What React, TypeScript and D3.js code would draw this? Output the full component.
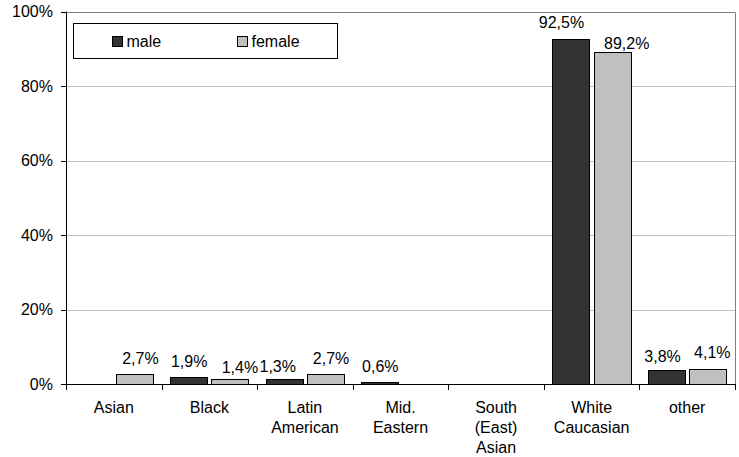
import React from "react";
import * as d3 from "d3";

const categories: string[][] = [
  ["Asian"],
  ["Black"],
  ["Latin", "American"],
  ["Mid.", "Eastern"],
  ["South", "(East)", "Asian"],
  ["White", "Caucasian"],
  ["other"],
];
const seriesNames = ["male", "female"];
const maleValues: (number | null)[] = [null, 1.9, 1.3, 0.6, null, 92.5, 3.8];
const femaleValues: (number | null)[] = [2.7, 1.4, 2.7, null, null, 89.2, 4.1];
const seriesColors = ["#333333", "#c0c0c0"];
const yTicks = [0, 20, 40, 60, 80, 100];

// manual label nudges (as placed in the original chart), [dx, dy] in px
const maleLabelNudge: [number, number][] = [[0, 0], [0, -0.7], [-7, 2], [0, 0], [0, 0], [-10, -1.5], [-4.5, 1.5]];
const femaleLabelNudge: [number, number][] = [[5.5, 0], [9.4, 4], [5, -0.5], [0, 0], [0, 0], [14, 7], [4, -1.5]];

const W = 739;
const H = 457;
const M = { left: 66, right: 735, top: 11.5, bottom: 384 };
const FONT = "'Liberation Sans', Arial, sans-serif";

export default function App() {
  const x = d3
    .scaleBand<number>()
    .domain(categories.map((_, i) => i))
    .range([M.left, M.right])
    .padding(0);
  const xs = d3
    .scaleBand<string>()
    .domain(seriesNames)
    .range([8.5, 87])
    .paddingInner(0.1);
  const y = d3.scaleLinear().domain([0, 100]).range([M.bottom, M.top]);
  const fmt = (v: number) => d3.format(".1f")(v).replace(".", ",") + "%";
  const seriesValues = [maleValues, femaleValues];
  const nudges = [maleLabelNudge, femaleLabelNudge];
  const bw = x.bandwidth();

  return (
    <div style={{ position: "absolute", left: 0, top: 0 }}>
      <svg width={W} height={H} style={{ display: "block", fontFamily: FONT }}>
        <rect x={0} y={0} width={W} height={H} fill="#fff" />
        {/* gridlines */}
        {yTicks.slice(1, -1).map((t) => (
          <line key={t} x1={M.left} x2={M.right} y1={Math.round(y(t)) + 0.5} y2={Math.round(y(t)) + 0.5} stroke="#c0c0c0" />
        ))}
        {/* plot border top/right */}
        <line x1={M.left} x2={M.right} y1={Math.round(y(100)) + 0.5} y2={Math.round(y(100)) + 0.5} stroke="#808080" />
        <line x1={M.right + 0.5} x2={M.right + 0.5} y1={Math.round(y(100)) + 0.5} y2={M.bottom} stroke="#808080" />
        {/* bars */}
        {seriesValues.map((vals, s) =>
          vals.map((v, i) =>
            v == null ? null : (
              <rect
                key={`${s}-${i}`}
                x={Math.round(x(i)! + xs(seriesNames[s])!) + 0.5}
                y={Math.round(y(v)) + 0.5}
                width={Math.round(xs.bandwidth())}
                height={Math.max(0, Math.round(y(0)) - Math.round(y(v)))}
                fill={seriesColors[s]}
                stroke="#000"
              />
            )
          )
        )}
        {/* value labels */}
        {seriesValues.map((vals, s) =>
          vals.map((v, i) =>
            v == null ? null : (
              <text
                key={`l${s}-${i}`}
                x={x(i)! + xs(seriesNames[s])! + xs.bandwidth() / 2 + 0.5 + nudges[s][i][0]}
                y={y(v) - 9.5 + nudges[s][i][1]}
                textAnchor="middle"
                fontSize={16}
                fill="#000"
              >
                {fmt(v)}
              </text>
            )
          )
        )}
        {/* y axis */}
        <line x1={M.left + 0.5} x2={M.left + 0.5} y1={M.top} y2={M.bottom + 1} stroke="#000" />
        {yTicks.map((t) => (
          <g key={t}>
            <line x1={M.left - 5} x2={M.left} y1={Math.round(y(t)) + 0.5} y2={Math.round(y(t)) + 0.5} stroke="#000" />
            <text x={53} y={y(t)} dy="0.36em" textAnchor="end" fontSize={16} fill="#000">
              {t}%
            </text>
          </g>
        ))}
        {/* x axis */}
        <line x1={M.left} x2={M.right + 1} y1={Math.round(y(0)) + 0.5} y2={Math.round(y(0)) + 0.5} stroke="#000" />
        {categories.map((_, i) => (
          <line key={i} x1={Math.round(x(i)!) + 0.5} x2={Math.round(x(i)!) + 0.5} y1={M.bottom} y2={M.bottom + 6} stroke="#000" />
        ))}
        <line x1={M.right + 0.5} x2={M.right + 0.5} y1={M.bottom} y2={M.bottom + 6} stroke="#000" />
        {categories.map((lines, i) => (
          <text key={i} x={x(i)! + bw / 2} y={413} textAnchor="middle" fontSize={16} fill="#000">
            {lines.map((l, j) => (
              <tspan key={j} x={x(i)! + bw / 2} dy={j === 0 ? 0 : 20}>
                {l}
              </tspan>
            ))}
          </text>
        ))}
        {/* legend */}
        <rect x={73.5} y={23.5} width={264} height={35} fill="#fff" stroke="#000" />
        {seriesNames.map((n, s) => (
          <g key={n} transform={`translate(${[112.5, 237.5][s]},36.5)`}>
            <rect x={0} y={0} width={10} height={10} fill={seriesColors[s]} stroke="#000" />
            <text x={14} y={5} dy="0.36em" fontSize={16} fill="#000">
              {n}
            </text>
          </g>
        ))}
      </svg>
    </div>
  );
}
